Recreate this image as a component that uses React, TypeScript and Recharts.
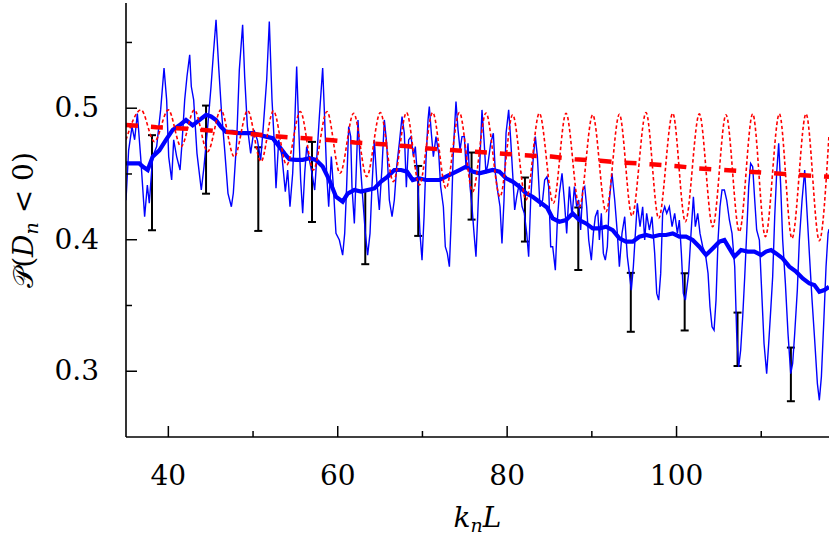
import { LineChart, Line, XAxis, YAxis, ErrorBar } from 'recharts'

const FONT = '"DejaVu Serif", serif'

// k_n L ticks and P ticks (majors get a label)
const kTicks = [40, 50, 60, 70, 80, 90, 100, 110]
const pTicks = [0.3, 0.35, 0.4, 0.45, 0.5, 0.55]

// thin blue: raw estimate
const rawCurve: [number, number][] = [
  [35.0, 0.43], [35.31, 0.468], [35.71, 0.486], [36.02, 0.476], [36.34, 0.496], [36.73, 0.463],
  [37.2, 0.4175], [37.52, 0.4416], [37.75, 0.4277], [38.15, 0.4632], [38.62, 0.4708], [39.09, 0.4987],
  [39.49, 0.5305], [39.8, 0.5063], [40.04, 0.4632], [40.39, 0.4454], [40.63, 0.4759], [40.98, 0.4632],
  [41.38, 0.453], [41.61, 0.4734], [41.93, 0.5063], [42.2, 0.5241], [42.52, 0.5406], [42.71, 0.5165],
  [42.99, 0.5063], [43.38, 0.4657], [43.89, 0.4378], [44.21, 0.4556], [44.68, 0.4886], [45.04, 0.5165],
  [45.31, 0.5406], [45.63, 0.5673], [45.94, 0.5317], [46.26, 0.4987], [46.65, 0.4683], [47.04, 0.4353],
  [47.44, 0.4251], [47.67, 0.4353], [48.07, 0.4759], [48.38, 0.5292], [48.77, 0.5634], [49.01, 0.5241],
  [49.33, 0.486], [49.72, 0.4657], [50.11, 0.4835], [50.51, 0.4759], [50.9, 0.4607], [51.21, 0.486],
  [51.61, 0.5216], [51.92, 0.566], [52.24, 0.5063], [52.51, 0.4734], [52.71, 0.4391], [53.03, 0.4759],
  [53.42, 0.4632], [53.81, 0.4366], [54.09, 0.453], [54.36, 0.4251], [54.68, 0.4505], [54.91, 0.486],
  [55.15, 0.5317], [55.39, 0.486], [55.62, 0.4454], [55.86, 0.4201], [56.1, 0.4505], [56.33, 0.4708],
  [56.65, 0.4607], [56.96, 0.4505], [57.28, 0.4378], [57.51, 0.4607], [57.83, 0.4937], [58.22, 0.5305],
  [58.46, 0.4911], [58.69, 0.4505], [58.93, 0.4251], [59.24, 0.4632], [59.48, 0.4404], [59.79, 0.4048],
  [60.19, 0.3998], [60.58, 0.3883], [60.82, 0.4048], [61.05, 0.4404], [61.29, 0.486], [61.53, 0.4784],
  [61.68, 0.4404], [61.96, 0.4124], [62.16, 0.448], [62.39, 0.4911], [62.63, 0.4607], [62.94, 0.4327],
  [63.26, 0.4048], [63.53, 0.3883], [63.81, 0.4048], [64.04, 0.4404], [64.32, 0.4759], [64.6, 0.4454],
  [64.91, 0.4226], [65.23, 0.4556], [65.5, 0.4911], [65.78, 0.4734], [66.09, 0.4302], [66.41, 0.4175],
  [66.68, 0.4302], [66.96, 0.4556], [67.27, 0.4734], [67.59, 0.4937], [67.86, 0.481], [68.1, 0.44],
  [68.37, 0.4759], [68.65, 0.4784], [68.93, 0.4632], [69.16, 0.4708], [69.44, 0.4454], [69.71, 0.4048],
  [69.95, 0.3845], [70.19, 0.4175], [70.42, 0.4607], [70.66, 0.4911], [70.81, 0.5013], [71.05, 0.481],
  [71.29, 0.4632], [71.6, 0.4784], [71.92, 0.4657], [72.15, 0.4404], [72.47, 0.4251], [72.7, 0.3947],
  [72.94, 0.3896], [73.18, 0.3795], [73.41, 0.4175], [73.65, 0.4683], [73.96, 0.5051], [74.2, 0.4835],
  [74.44, 0.4683], [74.67, 0.4784], [74.95, 0.4784], [75.14, 0.4556], [75.38, 0.4734], [75.62, 0.4404],
  [75.85, 0.4251], [76.09, 0.4048], [76.32, 0.3871], [76.52, 0.4175], [76.72, 0.4505], [77.03, 0.4987],
  [77.27, 0.4759], [77.5, 0.4505], [77.74, 0.4581], [78.06, 0.4734], [78.37, 0.481], [78.61, 0.4505],
  [78.92, 0.4353], [79.16, 0.4251], [79.39, 0.3972], [79.63, 0.4302], [79.87, 0.481], [80.18, 0.4987],
  [80.42, 0.4759], [80.65, 0.4505], [80.89, 0.4226], [81.13, 0.4327], [81.44, 0.4429], [81.76, 0.4251],
  [82.03, 0.4201], [82.31, 0.4048], [82.54, 0.3871], [82.78, 0.4302], [83.09, 0.4632], [83.33, 0.4784],
  [83.57, 0.4632], [83.88, 0.4251], [84.19, 0.4302], [84.43, 0.4454], [84.71, 0.448], [84.9, 0.4404],
  [85.14, 0.3947], [85.38, 0.3947], [85.69, 0.3769], [85.93, 0.415], [86.16, 0.4353], [86.48, 0.4505],
  [86.75, 0.4302], [87.03, 0.4048], [87.35, 0.4404], [87.66, 0.4175], [87.94, 0.4404], [88.21, 0.4251],
  [88.45, 0.4302], [88.68, 0.4074], [88.92, 0.4378], [89.16, 0.4404], [89.39, 0.4251], [89.63, 0.3998],
  [89.94, 0.3845], [90.18, 0.4048], [90.41, 0.4175], [90.69, 0.4226], [90.89, 0.3998], [91.12, 0.4201],
  [91.36, 0.3896], [91.59, 0.3845], [91.83, 0.3947], [92.07, 0.4302], [92.38, 0.4505], [92.7, 0.4302],
  [93.01, 0.4048], [93.25, 0.3795], [93.56, 0.4048], [93.88, 0.4175], [94.19, 0.3871], [94.43, 0.3744],
  [94.66, 0.3617], [94.9, 0.3795], [95.14, 0.4048], [95.37, 0.4277], [95.69, 0.4099], [96.0, 0.4251],
  [96.24, 0.3998], [96.47, 0.4201], [96.79, 0.4074], [97.1, 0.4175], [97.42, 0.3896], [97.66, 0.3592],
  [97.89, 0.3541], [98.13, 0.3744], [98.36, 0.4201], [98.6, 0.4251], [98.84, 0.4201], [99.15, 0.4251],
  [99.47, 0.4099], [99.78, 0.4201], [100.1, 0.4048], [100.33, 0.415], [100.57, 0.3896], [100.8, 0.3592],
  [101.04, 0.3541], [101.43, 0.3744], [101.71, 0.4048], [101.99, 0.4327], [102.22, 0.4099], [102.5, 0.4201],
  [102.77, 0.4048], [103.09, 0.3947], [103.4, 0.3896], [103.72, 0.3744], [103.95, 0.349], [104.19, 0.3338],
  [104.43, 0.3312], [104.66, 0.3541], [104.9, 0.3998], [105.13, 0.4251], [105.37, 0.4378], [105.65, 0.4378],
  [105.92, 0.4302], [106.24, 0.415], [106.55, 0.4048], [106.87, 0.3795], [107.1, 0.3287], [107.34, 0.3033],
  [107.57, 0.316], [107.81, 0.3414], [108.05, 0.3718], [108.28, 0.4048], [108.52, 0.4404], [108.75, 0.4581],
  [108.99, 0.4556], [109.23, 0.4302], [109.46, 0.4074], [109.78, 0.3998], [110.01, 0.3668], [110.33, 0.3211],
  [110.64, 0.2982], [110.88, 0.3211], [111.12, 0.3465], [111.35, 0.3718], [111.59, 0.4175], [111.82, 0.4505],
  [112.06, 0.4734], [112.3, 0.4404], [112.53, 0.3998], [112.85, 0.3668], [113.16, 0.3287], [113.48, 0.2982],
  [113.71, 0.3059], [113.95, 0.3287], [114.26, 0.3617], [114.5, 0.3998], [114.82, 0.4302], [115.13, 0.453],
  [115.37, 0.4251], [115.68, 0.3896], [116.0, 0.3541], [116.31, 0.3236], [116.63, 0.2906], [116.86, 0.2779],
  [117.1, 0.2957], [117.41, 0.3414], [117.65, 0.3795], [117.89, 0.4048], [118.0, 0.408],
]

// thick blue: running average
const smoothCurve: [number, number][] = [
  [35.0, 0.458], [35.79, 0.458], [36.57, 0.458], [36.97, 0.4556], [37.56, 0.453], [38.15, 0.4632],
  [38.94, 0.468], [39.72, 0.476], [40.51, 0.4835], [41.3, 0.487], [42.08, 0.491], [42.87, 0.487],
  [43.66, 0.491], [44.45, 0.495], [45.04, 0.4937], [45.63, 0.491], [46.2, 0.486], [46.8, 0.482],
  [47.6, 0.482], [48.38, 0.481], [49.17, 0.481], [49.95, 0.481], [50.74, 0.4797], [51.53, 0.4784],
  [52.32, 0.4772], [53.1, 0.4708], [53.7, 0.4657], [54.29, 0.4612], [55.07, 0.4607], [55.86, 0.4607],
  [56.65, 0.462], [57.43, 0.4607], [58.22, 0.4556], [59.01, 0.4454], [59.79, 0.4327], [60.58, 0.4289],
  [61.17, 0.435], [61.96, 0.4378], [62.75, 0.4366], [63.53, 0.4378], [64.32, 0.439], [65.11, 0.4442],
  [65.89, 0.448], [66.68, 0.453], [67.47, 0.453], [68.18, 0.4518], [68.85, 0.4454], [69.63, 0.4467],
  [70.42, 0.4454], [71.21, 0.4454], [72.0, 0.4454], [72.78, 0.448], [73.57, 0.4505], [74.36, 0.453],
  [75.14, 0.4556], [75.93, 0.4518], [76.72, 0.4505], [77.5, 0.4518], [78.29, 0.453], [79.08, 0.4518],
  [79.87, 0.4467], [80.65, 0.4442], [81.44, 0.4404], [82.23, 0.4353], [83.01, 0.4327], [83.8, 0.4289],
  [84.71, 0.4245], [85.38, 0.4162], [86.16, 0.4137], [86.95, 0.415], [87.74, 0.42], [88.52, 0.415],
  [89.31, 0.4124], [90.1, 0.4086], [90.89, 0.4086], [91.67, 0.4099], [92.46, 0.4073], [93.25, 0.401],
  [94.03, 0.3985], [94.82, 0.3985], [95.61, 0.4023], [96.4, 0.4036], [97.18, 0.4023], [97.97, 0.4036],
  [98.76, 0.4036], [99.55, 0.4048], [100.33, 0.4023], [101.12, 0.4023], [101.91, 0.3998], [102.69, 0.3947],
  [103.48, 0.3884], [104.27, 0.3934], [105.06, 0.3985], [105.65, 0.3998], [106.24, 0.3934], [106.83, 0.3871],
  [107.61, 0.3922], [108.4, 0.391], [109.19, 0.391], [109.98, 0.3884], [110.57, 0.391], [111.16, 0.3922],
  [111.75, 0.3896], [112.53, 0.3858], [113.32, 0.3795], [114.11, 0.3757], [114.9, 0.3706], [115.68, 0.3668],
  [116.27, 0.3655], [116.86, 0.3604], [117.45, 0.3617], [118.0, 0.3642],
]

// red dotted: oscillating prediction, peaks and troughs
const oscCurve: [number, number][] = [
  [35.0, 0.476], [36.77, 0.4987], [38.35, 0.4746], [40.0, 0.4987], [41.5, 0.4708], [43.07, 0.4987],
  [44.64, 0.467], [46.2, 0.4987], [47.79, 0.463], [49.36, 0.4982], [50.94, 0.4594], [52.4, 0.498],
  [53.97, 0.4569], [55.58, 0.4975], [57.12, 0.4531], [58.73, 0.4975], [60.27, 0.4505], [61.88, 0.4962],
  [63.42, 0.448], [65.03, 0.4967], [66.56, 0.4442], [68.12, 0.4967], [69.63, 0.4416], [71.21, 0.4967],
  [72.78, 0.439], [74.36, 0.4967], [75.93, 0.4365], [77.5, 0.4964], [79.16, 0.4327], [80.65, 0.495],
  [82.23, 0.4302], [83.8, 0.4962], [85.46, 0.4277], [86.95, 0.4962], [88.53, 0.4251], [90.1, 0.495],
  [91.67, 0.4213], [93.25, 0.4954], [94.74, 0.418], [96.4, 0.4967], [97.89, 0.4162], [99.55, 0.4962],
  [101.04, 0.4137], [102.69, 0.4957], [104.27, 0.4099], [105.84, 0.495], [107.42, 0.4061], [108.99, 0.4957],
  [110.49, 0.4023], [112.14, 0.4957], [113.63, 0.401], [115.29, 0.4957], [116.86, 0.3992], [118.0, 0.4797],
]

// red dashed: mean prediction
const trendCurve: [number, number][] = [
  [35.0, 0.4873], [38.6, 0.4855], [42.5, 0.4843], [45.6, 0.4827], [48.5, 0.481], [51.4, 0.4794],
  [55.0, 0.4775], [59.0, 0.4759], [62.0, 0.4739], [65.3, 0.4726], [68.0, 0.4712], [70.4, 0.4695],
  [73.0, 0.4683], [76.0, 0.467], [79.0, 0.4657], [82.0, 0.4642], [85.2, 0.4632], [88.0, 0.4612],
  [91.0, 0.46], [94.0, 0.4586], [97.0, 0.4574], [99.8, 0.4561], [102.5, 0.4543], [105.5, 0.453],
  [108.5, 0.4518], [111.5, 0.4505], [114.5, 0.4492], [118.0, 0.4478],
]

// black error bars
const barK = [38.07, 44.45, 50.62, 56.96, 63.25, 69.5, 75.8, 82.1, 88.4, 94.6, 100.96, 107.2, 113.5]
const barLow = [0.4072, 0.435, 0.4067, 0.4135, 0.3814, 0.4029, 0.4153, 0.3986, 0.377, 0.33, 0.331, 0.304, 0.2772]
const barHigh = [0.4795, 0.502, 0.4703, 0.4744, 0.4376, 0.4561, 0.4663, 0.4473, 0.4245, 0.3748, 0.3745, 0.3446, 0.318]

const toPoints = (pairs: [number, number][]) => pairs.map(([k, p]) => ({ k, p }))
const bars = barK.map((k, i) => ({
  k,
  p: (barLow[i] + barHigh[i]) / 2,
  err: (barHigh[i] - barLow[i]) / 2
}))

const kMajor = (v: number) => v % 20 === 0
const pMajor = (v: number) => Math.abs(v * 10 - Math.round(v * 10)) < 1e-6

const textStyle = { fontFamily: FONT, fontSize: 28 }

const BottomTick = ({ x, y, payload }: any) => {
  const major = kMajor(payload.value)
  return (
    <g>
      <line x1={x} x2={x} y1={y} y2={y - (major ? 11 : 6)} stroke='#000' strokeWidth={1.5} />
      {major && (
        <text x={x} y={y + 48} textAnchor='middle' style={textStyle} fill='#000'>
          {payload.value}
        </text>
      )}
    </g>
  )
}

const TopTick = ({ x, y, payload }: any) => (
  <line x1={x} x2={x} y1={y} y2={y + (kMajor(payload.value) ? 11 : 6)} stroke='#000' strokeWidth={1.5} />
)

const LeftTick = ({ x, y, payload }: any) => {
  const major = pMajor(payload.value)
  return (
    <g>
      <line x1={x} x2={x + (major ? 11 : 6)} y1={y} y2={y} stroke='#000' strokeWidth={1.5} />
      {major && (
        <text x={x - 27} y={y + 9} textAnchor='end' style={textStyle} fill='#000'>
          {payload.value.toFixed(1)}
        </text>
      )}
    </g>
  )
}

const RightTick = ({ x, y, payload }: any) => (
  <line x1={x} x2={x - (pMajor(payload.value) ? 11 : 6)} y1={y} y2={y} stroke='#000' strokeWidth={1.5} />
)

const XLabel = ({ viewBox }: any) => {
  const cx = viewBox.x + viewBox.width / 2
  return (
    <text x={cx} y={viewBox.y + 90} textAnchor='middle' style={{ ...textStyle, fontStyle: 'italic' }} fill='#000'>
      <tspan>k</tspan>
      <tspan style={{ fontSize: 19 }} dy={5}>n</tspan>
      <tspan dy={-5}>L</tspan>
    </text>
  )
}

const YLabel = ({ viewBox }: any) => {
  const cx = 33
  const cy = viewBox.y + viewBox.height / 2
  return (
    <text x={cx} y={cy} transform={`rotate(-90 ${cx} ${cy})`} textAnchor='middle' style={textStyle} fill='#000'>
      <tspan>𝒫(</tspan>
      <tspan style={{ fontStyle: 'italic' }}>D</tspan>
      <tspan style={{ fontStyle: 'italic', fontSize: 19 }} dy={5}>n</tspan>
      <tspan dy={-5}> &lt; 0)</tspan>
    </text>
  )
}

const App = () => {
  return (
    <div style={{ position: 'absolute', left: 0, top: 0 }}>
      <LineChart width={832} height={539} margin={{ top: 3, right: 3, bottom: 0, left: 0 }}>
        <XAxis
          xAxisId='b' type='number' dataKey='k' domain={[35, 118]} ticks={kTicks} allowDataOverflow
          height={102} tickSize={0} tickMargin={0} tick={BottomTick} interval={0}
          axisLine={{ stroke: '#000', strokeWidth: 1.6 }} tickLine={false} label={XLabel}
        />
        <XAxis
          xAxisId='t' orientation='top' type='number' dataKey='k' domain={[35, 118]} ticks={kTicks} allowDataOverflow
          height={0} tickSize={0} tickMargin={0} tick={TopTick} interval={0}
          axisLine={{ stroke: '#000', strokeWidth: 1.6 }} tickLine={false}
        />
        <YAxis
          yAxisId='l' type='number' domain={[0.25, 0.58]} ticks={pTicks} allowDataOverflow
          width={126} tickSize={0} tickMargin={0} tick={LeftTick} interval={0}
          axisLine={{ stroke: '#000', strokeWidth: 1.6 }} tickLine={false} label={YLabel}
        />
        <YAxis
          yAxisId='r' orientation='right' type='number' domain={[0.25, 0.58]} ticks={pTicks} allowDataOverflow
          width={0} tickSize={0} tickMargin={0} tick={RightTick} interval={0}
          axisLine={{ stroke: '#000', strokeWidth: 1.6 }} tickLine={false}
        />
        <Line
          xAxisId='b' yAxisId='l' data={bars} dataKey='p' stroke='none' dot={false} activeDot={false}
          isAnimationActive={false}
        >
          <ErrorBar dataKey='err' width={4} stroke='#000' strokeWidth={2} isAnimationActive={false} />
        </Line>
        <Line
          xAxisId='b' yAxisId='l' data={toPoints(rawCurve)} dataKey='p' type='linear' stroke='#0000ff'
          strokeWidth={1.4} dot={false} activeDot={false} isAnimationActive={false}
        />
        <Line
          xAxisId='b' yAxisId='l' data={toPoints(smoothCurve)} dataKey='p' type='linear' stroke='#0000ff'
          strokeWidth={4.2} dot={false} activeDot={false} isAnimationActive={false}
        />
        <Line
          xAxisId='b' yAxisId='l' data={toPoints(oscCurve)} dataKey='p' type='monotone' stroke='#ff0000'
          strokeWidth={1.6} strokeDasharray='3.5 2.5' dot={false} activeDot={false} isAnimationActive={false}
        />
        <Line
          xAxisId='b' yAxisId='l' data={toPoints(trendCurve)} dataKey='p' type='linear' stroke='#ff0000'
          strokeWidth={4.5} strokeDasharray='12 13' dot={false} activeDot={false} isAnimationActive={false}
        />
      </LineChart>
    </div>
  )
}

export default App
